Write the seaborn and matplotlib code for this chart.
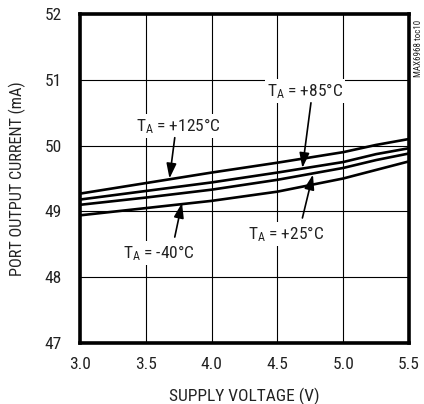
import numpy as np
import pandas as pd
import matplotlib
matplotlib.use('Agg')
import matplotlib.pyplot as plt
from matplotlib import font_manager
import seaborn as sns

sns.set_style('white')

# prefer a narrow sans if one is installed, like the original artwork
names = {f.name for f in font_manager.fontManager.ttflist}
narrow = [n for n in ['Roboto Condensed', 'Liberation Sans Narrow', 'Open Sans Condensed',
                      'Noto Sans Condensed', 'DejaVu Sans Condensed'] if n in names]
if narrow:
    plt.rcParams['font.family'] = [narrow[0], 'DejaVu Sans']
    FS = 12.5
else:
    plt.rcParams['font.family'] = ['Liberation Sans', 'DejaVu Sans']
    FS = 11.5
plt.rcParams['mathtext.default'] = 'regular'

# supply voltage (V) and port output current (mA) per temperature
voltage = [3.0, 3.5, 4.0, 4.5, 5.0, 5.25, 5.5]
i_125 = [49.27, 49.43, 49.59, 49.74, 49.90, 50.01, 50.10]
i_85 = [49.18, 49.31, 49.44, 49.59, 49.75, 49.87, 49.96]
i_25 = [49.10, 49.21, 49.33, 49.48, 49.66, 49.78, 49.88]
i_m40 = [48.94, 49.05, 49.16, 49.30, 49.50, 49.63, 49.76]
temps = ['+125', '+85', '+25', '-40']

x_ticks = [3.0, 3.5, 4.0, 4.5, 5.0, 5.5]
y_ticks = [47, 48, 49, 50, 51, 52]

# annotation: label, text pos, arrow tail, arrow tip
labels = ['T$_A$ = +125°C', 'T$_A$ = +85°C', 'T$_A$ = +25°C', 'T$_A$ = -40°C']
text_xy = [(3.75, 50.30), (4.71, 50.83), (4.57, 48.66), (3.60, 48.37)]
tail_xy = [(3.72, 50.12), (4.755, 50.65), (4.69, 48.90), (3.72, 48.61)]
tip_xy = [(3.68, 49.50), (4.69, 49.66), (4.77, 49.56), (3.775, 49.13)]

df = pd.DataFrame({
    'voltage': voltage * 4,
    'current': i_125 + i_85 + i_25 + i_m40,
    'temp': [t for t in temps for _ in voltage],
})

fig = plt.figure(figsize=(4.24, 4.04), dpi=100)
ax = fig.add_axes([0.1887, 0.151, 0.7759, 0.8144])

sns.lineplot(data=df, x='voltage', y='current', hue='temp',
             palette=['black'] * 4, linewidth=1.9, legend=False, ax=ax)

ax.set_xlim(3.0, 5.5)
ax.set_ylim(47, 52)
ax.set_xticks(x_ticks)
ax.set_xticklabels([f'{v:.1f}' for v in x_ticks])
ax.set_yticks(y_ticks)
ax.grid(True, color='black', linewidth=0.8)
ax.tick_params(axis='both', length=0, labelsize=FS, colors='#222222')
ax.tick_params(axis='y', pad=13)
ax.tick_params(axis='x', pad=10)
for sp in ax.spines.values():
    sp.set_linewidth(2.6)
    sp.set_color('black')

ax.set_xlabel('SUPPLY VOLTAGE (V)', fontsize=FS, color='#222222')
ax.set_ylabel('PORT OUTPUT CURRENT (mA)', fontsize=FS - 0.8, color='#222222')
ax.xaxis.set_label_coords(0.5, -0.135)
ax.yaxis.set_label_coords(-0.163, 0.50)

for lab, txy, tail, tip in zip(labels, text_xy, tail_xy, tip_xy):
    ax.text(txy[0], txy[1], lab, fontsize=FS, ha='center', va='center', color='#222222',
            bbox=dict(facecolor='white', edgecolor='none', pad=1.5), zorder=5)
    ax.annotate('', xy=tip, xytext=tail,
                arrowprops=dict(arrowstyle='-|>,head_length=0.9,head_width=0.3',
                                color='black', lw=1.2, mutation_scale=10,
                                shrinkA=0, shrinkB=0), zorder=6)

fig.text(0.986, 0.881, 'MAX6968 toc10', rotation=90, fontsize=6.5,
         ha='center', va='center', color='#222222')

fig.savefig('out.png', dpi=100)
